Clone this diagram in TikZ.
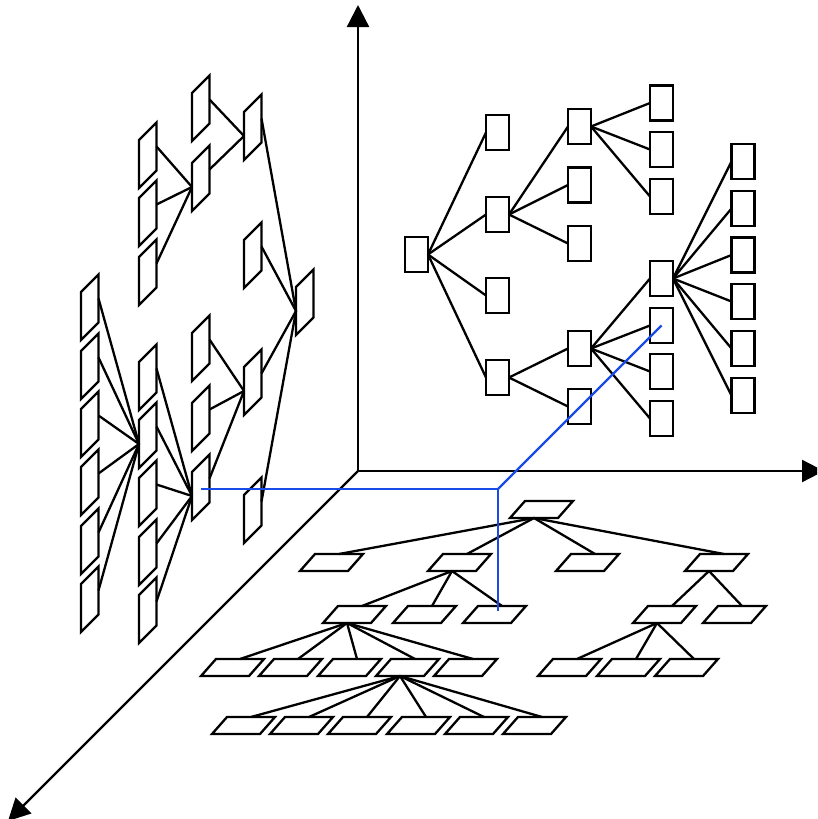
\documentclass[tikz,border=0pt]{standalone}
\usetikzlibrary{arrows.meta}
\definecolor{blueline}{RGB}{25,75,230}
\begin{document}
\begin{tikzpicture}[x=1pt,y=-1pt,line width=2.3pt,
  box/.style={draw,minimum width=23pt,minimum height=35pt,inner sep=0pt,outer sep=0pt},
  axis/.style={-{Triangle[length=22pt,width=22pt]}},
  link/.style={draw=black},
  hubline/.style={draw=blueline},
  wallpar/.pic={
    \draw (0,0) -- (17.5,-17.5) -- (17.5,30.5) -- (0,48) -- cycle;
    \coordinate (-l) at (0,24);
    \coordinate (-r) at (17.5,6.5);
    \coordinate (-c) at (8.75,15.25);
  },
  floorpar/.pic={
    \draw (0,0) -- (48,0) -- (63,-17) -- (15,-17) -- cycle;
    \coordinate (-t) at (39,-17);
    \coordinate (-b) at (24,0);
    \coordinate (-c) at (31.5,-8.5);
  }]
\clip (0,0) rectangle (817,819);
% axes
\coordinate (O) at (358,471);
\coordinate (ytip) at (358,5);
\coordinate (xtip) at (824,471);
\coordinate (ztip) at (8,821);
\draw[axis] (O) -- (ytip);
\draw[axis] (O) -- (xtip);
\draw[axis] (O) -- (ztip);

% back wall tree (rectangles)
\node[box] (r0) at (416.5,254.5) {};
\node[box] (rA) at (497.5,132.5) {};
\node[box] (rB) at (497.5,214.5) {};
\node[box] (rC) at (497.5,295.5) {};
\node[box] (rD) at (497.5,377.5) {};
\node[box] (rE) at (579.5,126.5) {};
\node[box] (rF) at (579.5,185) {};
\node[box] (rG) at (579.5,243.5) {};
\node[box] (rH) at (579.5,348.5) {};
\node[box] (rI) at (579.5,406.5) {};
\node[box] (rE1) at (661.5,103) {};
\node[box] (rE2) at (661.5,149.5) {};
\node[box] (rE3) at (661.5,196.5) {};
\node[box] (rJ) at (661.5,278.5) {};
\node[box] (rK) at (661.5,325.5) {};
\node[box] (rL) at (661.5,371.5) {};
\node[box] (rM) at (661.5,418.5) {};
\node[box] (rJ1) at (743,161.5) {};
\node[box] (rJ2) at (743,208.5) {};
\node[box] (rJ3) at (743,255) {};
\node[box] (rJ4) at (743,301.5) {};
\node[box] (rJ5) at (743,348.5) {};
\node[box] (rJ6) at (743,395.5) {};
\foreach \c in {rA,rB,rC,rD} \draw[link] (r0.east) -- (\c.west);
\foreach \c in {rE,rF,rG} \draw[link] (rB.east) -- (\c.west);
\foreach \c in {rH,rI} \draw[link] (rD.east) -- (\c.west);
\foreach \c in {rE1,rE2,rE3} \draw[link] (rE.east) -- (\c.west);
\foreach \c in {rJ,rK,rL,rM} \draw[link] (rH.east) -- (\c.west);
\foreach \c in {rJ1,rJ2,rJ3,rJ4,rJ5,rJ6} \draw[link] (rJ.east) -- (\c.west);

% left wall tree (vertical parallelograms)
\pic (wR) at (296,287) {wallpar};
\pic (wP2) at (244,112) {wallpar};
\pic (wP4) at (244,240) {wallpar};
\pic (wP6) at (244,367) {wallpar};
\pic (wP7) at (244,495) {wallpar};
\pic (wP1) at (192,93) {wallpar};
\pic (wP3) at (192,163) {wallpar};
\pic (wC1) at (192,333) {wallpar};
\pic (wC2) at (192,403) {wallpar};
\pic (wC3) at (192,472) {wallpar};
\pic (wT1) at (139,140) {wallpar};
\pic (wT2) at (139,198) {wallpar};
\pic (wT3) at (139,257) {wallpar};
\pic (wB1) at (139,362) {wallpar};
\pic (wB2) at (139,420) {wallpar};
\pic (wB3) at (139,478) {wallpar};
\pic (wB4) at (139,537) {wallpar};
\pic (wB5) at (139,595) {wallpar};
\pic (wA1) at (81,292) {wallpar};
\pic (wA2) at (81,351) {wallpar};
\pic (wA3) at (81,409) {wallpar};
\pic (wA4) at (81,467) {wallpar};
\pic (wA5) at (81,526) {wallpar};
\pic (wA6) at (81,584) {wallpar};
\foreach \c in {wP2,wP4,wP6,wP7} \draw[link] (\c-r) -- (wR-l);
\foreach \c in {wP1,wP3} \draw[link] (\c-r) -- (wP2-l);
\foreach \c in {wT1,wT2,wT3} \draw[link] (\c-r) -- (wP3-l);
\foreach \c in {wC1,wC2,wC3} \draw[link] (\c-r) -- (wP6-l);
\foreach \c in {wB1,wB2,wB3,wB4,wB5} \draw[link] (\c-r) -- (wC3-l);
\foreach \c in {wA1,wA2,wA3,wA4,wA5,wA6} \draw[link] (\c-r) -- (wB2-l);

% floor tree (horizontal parallelograms)
\pic (f0) at (510,518) {floorpar};
\pic (fa1) at (300,571) {floorpar};
\pic (fa2) at (428,571) {floorpar};
\pic (fa3) at (556,571) {floorpar};
\pic (fa4) at (685,571) {floorpar};
\pic (fb1) at (323,623) {floorpar};
\pic (fb2) at (393,623) {floorpar};
\pic (fb3) at (463,623) {floorpar};
\pic (fb4) at (633,623) {floorpar};
\pic (fb5) at (703,623) {floorpar};
\pic (fc1) at (201,676) {floorpar};
\pic (fc2) at (259,676) {floorpar};
\pic (fc3) at (318,676) {floorpar};
\pic (fc4) at (376,676) {floorpar};
\pic (fc5) at (434,676) {floorpar};
\pic (fc6) at (538,676) {floorpar};
\pic (fc7) at (597,676) {floorpar};
\pic (fc8) at (655,676) {floorpar};
\pic (fd1) at (212,734) {floorpar};
\pic (fd2) at (270,734) {floorpar};
\pic (fd3) at (328,734) {floorpar};
\pic (fd4) at (387,734) {floorpar};
\pic (fd5) at (445,734) {floorpar};
\pic (fd6) at (503,734) {floorpar};
\foreach \c in {fa1,fa2,fa3,fa4} \draw[link] (f0-b) -- (\c-t);
\foreach \c in {fb1,fb2,fb3} \draw[link] (fa2-b) -- (\c-t);
\foreach \c in {fb4,fb5} \draw[link] (fa4-b) -- (\c-t);
\foreach \c in {fc1,fc2,fc3,fc4,fc5} \draw[link] (fb1-b) -- (\c-t);
\foreach \c in {fc6,fc7,fc8} \draw[link] (fb4-b) -- (\c-t);
\foreach \c in {fd1,fd2,fd3,fd4,fd5,fd6} \draw[link] (fc4-b) -- (\c-t);

% blue projection lines
\coordinate (hub) at (498,489);
\coordinate (bend) at (498,611);
\draw[hubline] (hub -| wC3-c) -- (hub);
\draw[hubline] (hub) -- (rK.center);
\draw[hubline] (hub) -- (bend);
\end{tikzpicture}
\end{document}
